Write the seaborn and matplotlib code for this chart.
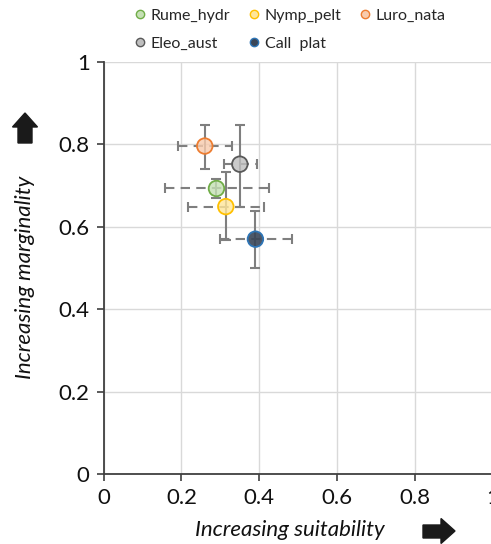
import matplotlib
matplotlib.use("Agg")
import matplotlib.pyplot as plt
from matplotlib.patches import Polygon
from matplotlib.lines import Line2D
from matplotlib.colors import to_rgba
import seaborn as sns
import pandas as pd

species = ["Rume_hydr", "Nymp_pelt", "Luro_nata", "Eleo_aust", "Call_plat"]
suitability = [0.290, 0.314, 0.260, 0.350, 0.390]
marginality = [0.693, 0.649, 0.796, 0.752, 0.570]
suit_low = [0.158, 0.217, 0.190, 0.310, 0.299]
suit_high = [0.425, 0.412, 0.331, 0.394, 0.483]
marg_low = [0.669, 0.568, 0.741, 0.649, 0.499]
marg_high = [0.715, 0.732, 0.847, 0.847, 0.639]
legend_labels = ["Rume_hydr", "Nymp_pelt", "Luro_nata", "Eleo_aust", "Call  plat"]
x_ticks = [0, 0.2, 0.4, 0.6, 0.8, 1]
y_ticks = [0, 0.2, 0.4, 0.6, 0.8, 1]
x_tick_labels = ["0", "0.2", "0.4", "0.6", "0.8", "1"]
y_tick_labels = ["0", "0.2", "0.4", "0.6", "0.8", "1"]

face_colors = ["#c5e0b4", "#ffe699", "#f8cbad", "#bfbfbf", "#3a4658"]
edge_colors = ["#70ad47", "#ffc000", "#ed7d31", "#595959", "#2e75b6"]
face_alpha = [0.8, 0.8, 0.8, 0.8, 0.9]

df = pd.DataFrame({"species": species, "x": suitability, "y": marginality})

sns.set_style("white")
plt.rcParams["font.family"] = ["Lato", "DejaVu Sans"]

W, H = 491, 544
fig = plt.figure(figsize=(W / 100, H / 100), dpi=100)
ax = fig.add_axes([103.5 / W, (H - 474) / H, (493 - 103.5) / W, (474 - 62) / H])
ax.set_xlim(0, 1)
ax.set_ylim(0, 1)

# error bars
for i in range(len(species)):
    eb = ax.errorbar(
        suitability[i], marginality[i],
        xerr=[[suitability[i] - suit_low[i]], [suit_high[i] - suitability[i]]],
        fmt="none", ecolor="#7f7f7f", elinewidth=1.5, capsize=3.5, capthick=1.5, zorder=2,
    )
    eb[2][0].set_linestyle((0, (4.5, 3)))
    ax.errorbar(
        suitability[i], marginality[i],
        yerr=[[marginality[i] - marg_low[i]], [marg_high[i] - marginality[i]]],
        fmt="none", ecolor="#7f7f7f", elinewidth=1.5, capsize=3.5, capthick=1.5, zorder=2,
    )

fc = [to_rgba(c, a) for c, a in zip(face_colors, face_alpha)]
sns.scatterplot(data=df, x="x", y="y", s=125, color="none", facecolors=fc,
                edgecolor=edge_colors, linewidth=1.3, legend=False, ax=ax, zorder=3)
ax.collections[-1].set_facecolors(fc)
ax.collections[-1].set_edgecolors(edge_colors)

ax.set_xticks(x_ticks)
ax.set_xticklabels(x_tick_labels)
ax.set_yticks(y_ticks)
ax.set_yticklabels(y_tick_labels)
ax.tick_params(axis="both", labelsize=16, length=5, width=1.2, color="#404040",
               labelcolor="#111111", direction="out", bottom=True, left=True, pad=5)
ax.grid(True, color="#d9d9d9", linewidth=1.0)
ax.set_axisbelow(True)
for s in ["top", "right"]:
    ax.spines[s].set_visible(False)
for s in ["left", "bottom"]:
    ax.spines[s].set_color("#404040")
    ax.spines[s].set_linewidth(1.3)
ax.set_xlabel("")
ax.set_ylabel("")

fig.text(290 / W, 1 - 530 / H, "Increasing suitability", fontsize=16, style="italic",
         ha="center", va="center", color="#111111")
fig.text(25 / W, 1 - 277 / H, "Increasing marginality", fontsize=16, style="italic",
         ha="center", va="center", rotation=90, color="#111111")

def px(pts):
    return [(x / W, 1 - y / H) for x, y in pts]

up = px([(25, 113), (37.5, 127), (32, 127), (32, 143), (18, 143), (18, 127), (12.5, 127)])
right = px([(455, 531), (441, 518.5), (441, 525), (423, 525), (423, 538), (441, 538), (441, 543.5)])
for poly in (up, right):
    fig.patches.append(Polygon(poly, closed=True, transform=fig.transFigure,
                               facecolor="#1a1a1a", edgecolor="#1a1a1a", figure=fig))

# legend
order = [0, 3, 1, 4, 2]
handles = [Line2D([], [], linestyle="none", marker="o", markersize=6,
                  markerfacecolor=face_colors[i], markeredgecolor=edge_colors[i],
                  markeredgewidth=1.0) for i in order]
labels = [legend_labels[i] for i in order]
fig.legend(handles, labels, ncol=3, loc="upper left", bbox_to_anchor=(125 / W, 1.0),
           frameon=False, fontsize=11.5, handlelength=0.8, handletextpad=0.25,
           columnspacing=1.1, labelspacing=0.85, borderaxespad=0.15)

fig.savefig("out.png", dpi=100)
